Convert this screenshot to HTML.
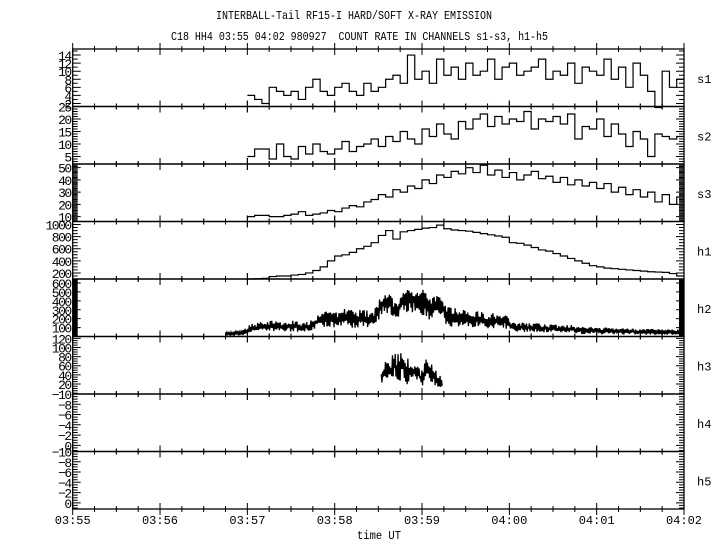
<!DOCTYPE html>
<html><head><meta charset="utf-8"><style>
html,body{margin:0;padding:0;background:#fff;}
svg{display:block;}
text{font-family:"Liberation Mono","DejaVu Sans Mono",monospace;fill:#000;}
</style></head><body>
<svg id="chart" width="720" height="550" viewBox="0 0 720 550" xmlns="http://www.w3.org/2000/svg">
<rect width="720" height="550" fill="#fff"/>
<text x="216" y="19" font-size="12" textLength="276" lengthAdjust="spacingAndGlyphs">INTERBALL-Tail RF15-I HARD/SOFT X-RAY EMISSION</text>
<text x="171" y="40" font-size="12" textLength="377" lengthAdjust="spacingAndGlyphs" xml:space="preserve">C18 HH4 03:55 04:02 980927  COUNT RATE IN CHANNELS s1-s3, h1-h5</text>
<text x="357" y="539" font-size="12" textLength="44" lengthAdjust="spacingAndGlyphs">time UT</text>
<g id="plots"></g>
</svg>
<script>
// ---- data (minutes after 03:55 for starts) ----
const xTickLabels = ["03:55","03:56","03:57","03:58","03:59","04:00","04:01","04:02"];
const panelNames = ["s1","s2","s3","h1","h2","h3","h4","h5"];
const sStart = 2.0;          // 03:57
const sBinMin = 5/60;        // 5-second bins
const s1 = [4,3,2,6,5,4,5,3,6,8,5,4,6,7,5,4,7,5,6,8,9,7,14,8,10,7,13,9,11,8,12,9,10,13,8,11,12,9,10,11,13,8,10,9,12,7,11,10,9,13,8,11,6,12,9,5,1,10,6,8];
const s2 = [5,8,8,4,10,5,4,9,6,10,7,6,8,11,7,9,10,12,9,13,11,15,12,10,16,13,18,14,12,19,16,20,22,17,21,18,20,19,23,16,20,19,21,18,22,12,17,16,20,13,18,14,9,15,12,5,14,13,12,13];
const s3 = [10,11,11,10,10,11,12,14,11,12,13,15,14,17,19,18,22,24,28,26,32,30,35,33,40,37,44,42,47,45,50,46,52,44,48,42,46,40,44,47,41,43,38,42,36,40,35,38,33,37,30,34,28,32,26,30,22,28,20,26];
const h1 = [100,105,110,140,150,150,165,175,200,240,300,400,480,500,540,600,640,700,820,900,760,880,900,920,940,950,990,930,910,900,890,870,850,830,810,790,700,690,660,620,580,560,520,480,440,400,360,320,300,280,270,260,250,240,230,220,215,210,190,150];
const h2Start = 1.75;        // 03:56:45
const h2BinMin = 5/60;
const h2Lo = [10,10,15,50,50,55,50,55,60,50,55,60,90,90,95,90,100,90,95,100,110,250,260,180,270,270,280,200,180,250,110,110,100,100,95,90,90,90,85,50,50,50,50,45,45,45,40,40,25,25,25,25,25,22,22,22,20,20,20,20,20,20,20];
const h2Hi = [50,70,80,150,160,170,180,160,170,180,160,180,250,270,300,280,330,290,300,310,330,480,490,380,540,530,540,560,450,480,330,320,300,310,290,280,270,260,250,160,160,150,150,140,140,135,130,130,110,110,105,100,100,95,95,90,90,85,85,85,80,80,80];
const h3Start = 3 + 32/60;   // 03:58:32
const h3BinMin = 2/60;
const h3Lo = [20,25,30,20,30,20,25,30,15,20,25,30,25,20,10,20,30,20,15,10,10];
const h3Hi = [55,80,70,75,110,85,100,90,75,80,70,75,65,50,60,80,75,60,55,45,35];
const yRanges = [[1.25,15.5],[2,25],[6,53],[100,1050],[0,645],[-2,124],[-10,1.2],[-10,1.2]];
const yLabels = [[2,4,6,8,10,12,14],[5,10,15,20,25],[10,20,30,40,50],[200,400,600,800,1000],[100,200,300,400,500,600],[20,40,60,80,100,120],[-10,-8,-6,-4,-2,0],[-10,-8,-6,-4,-2,0]];
const yMinor = [1,1,1,50,10,5,0.5,0.5];
const yInverted = [false,false,false,false,false,false,true,true];

// ---- layout ----
const X0 = 72.7, X1 = 684, TOP = 49, PH = 57.5;
const NS = "http://www.w3.org/2000/svg";
const g = document.getElementById('plots');
function xs(m){ return X0 + (X1 - X0) * m / 7; }
function mk(tag, attrs, parent){
  const e = document.createElementNS(NS, tag);
  for (const k in attrs) e.setAttribute(k, attrs[k]);
  (parent || g).appendChild(e); return e;
}
function ysFor(i){
  const [a,b] = yRanges[i], t = TOP + i*PH, bot = t + PH;
  if (yInverted[i]) return v => t + (v - a) / (b - a) * PH;
  return v => bot - (v - a) / (b - a) * PH;
}

for (let i = 0; i < 8; i++){
  const t = TOP + i*PH, bot = t + PH, y = ysFor(i);
  const pg = mk('g', {});
  
  
  const fr = mk('rect', {x:X0, y:t, width:X1-X0, height:PH, fill:'none', stroke:'#000', 'stroke-width':1.3}, pg);
  
  
  const [a,b] = yRanges[i];
  let d = '';
  const step = yMinor[i];
  for (let v = Math.ceil(a/step)*step; v <= b + 1e-9; v += step){
    const yy = y(v);
    if (yy < t - 0.1 || yy > bot + 0.1) continue;
    const major = yLabels[i].some(l => Math.abs(l - v) < 1e-6);
    const L = major ? 8 : 5;
    d += `M${X0} ${yy.toFixed(2)}h${L}M${X1} ${yy.toFixed(2)}h${-L}`;
  }
  const yt = mk('path', {d:d, stroke:'#000', 'stroke-width':1, fill:'none'}, pg);
  
  
  yLabels[i].forEach(l => {
    const tx = mk('text', {x:X0-2, y:(y(l)+5).toFixed(1), 'font-size':13, 'text-anchor':'end', 'letter-spacing':'-1.5'}, pg);
    tx.textContent = String(l).replace('-', '\u2212');
    
    
  });
  let dx = '';
  for (let k = 0; k <= 28; k++){
    const xx = xs(k/4).toFixed(2), major = k % 4 === 0, L = major ? 6 : 3;
    dx += `M${xx} ${t-L}v${2*L}M${xx} ${bot-L}v${2*L}`;
  }
  const xt = mk('path', {d:dx, stroke:'#000', 'stroke-width':1, fill:'none'}, pg);
  
  
  const nm = mk('text', {x:697, y:(t+PH/2+5).toFixed(1), 'font-size':12}, pg);
  nm.textContent = panelNames[i];
  
  
}

function stepPath(arr, start, bin, i){
  const y = ysFor(i);
  let d = '';
  arr.forEach((v, k) => {
    const xa = xs(start + k*bin), xb = xs(start + (k+1)*bin), yy = y(v).toFixed(2);
    d += (k === 0 ? `M${xa.toFixed(2)} ${yy}` : `V${yy}`) + `H${xb.toFixed(2)}`;
  });
  return mk('path', {d:d, stroke:'#000', 'stroke-width':1.2, fill:'none'});
}
const p1 = stepPath(s1, sStart, sBinMin, 0);


const p2 = stepPath(s2, sStart, sBinMin, 1);


const p3 = stepPath(s3, sStart, sBinMin, 2);


const p4 = stepPath(h1, sStart, sBinMin, 3);



// noisy envelopes: trace jitters within [lo, hi] band (texture only)
function tex(n){ const s = Math.sin(n * 12.9898) * 43758.5453; return s - Math.floor(s); }
function noisePath(lo, hi, start, bin, i){
  const y = ysFor(i);
  const n = lo.length, xa = xs(start), xb = xs(start + n*bin);
  let d = '', c = 0;
  for (let x = xa; x <= xb; x += 0.7){
    const f = (x - xa) / (xb - xa) * n - 0.5;
    const k0 = Math.max(0, Math.min(n-1, Math.floor(f))), k1 = Math.min(n-1, k0+1);
    const w = Math.max(0, Math.min(1, f - k0));
    const l = lo[k0]*(1-w) + lo[k1]*w, h = hi[k0]*(1-w) + hi[k1]*w;
    const r = tex(c + i*1000);
    const frac = (c % 2 === 0) ? 0.55 + 0.45*r : 0.4*r;
    const v = l + (h - l) * frac;
    d += (d ? 'L' : 'M') + x.toFixed(2) + ' ' + y(v).toFixed(2);
    c++;
  }
  return mk('path', {d:d, stroke:'#000', 'stroke-width':1.3, fill:'none'});
}
const p5 = noisePath(h2Lo, h2Hi, h2Start, h2BinMin, 4);


const p6 = noisePath(h3Lo, h3Hi, h3Start, h3BinMin, 5);



xTickLabels.forEach((l, k) => {
  const tx = mk('text', {x:xs(k).toFixed(1), y:524, 'font-size':12, 'text-anchor':'middle'});
  tx.textContent = l;
  
  
});
</script>
</body></html>
